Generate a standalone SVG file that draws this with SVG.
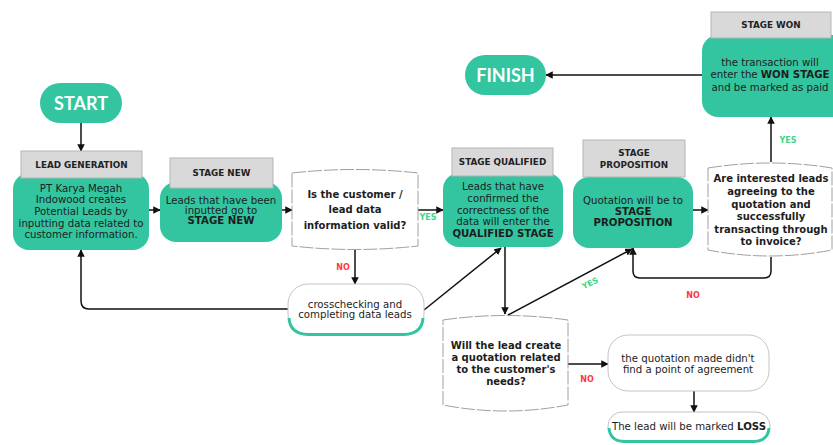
<svg xmlns="http://www.w3.org/2000/svg" width="833" height="445" viewBox="0 0 833 445">
  <defs>
    <marker id="arrow" viewBox="0 0 10 10" refX="9" refY="5" markerWidth="5" markerHeight="5" orient="auto-start-reverse">
      <path d="M0,0 L10,5 L0,10 z" fill="#111"/>
    </marker>
    <style>
      .teal { fill: #33c5a0; }
      .head { fill: #d9d9d9; stroke: #b5b5b5; stroke-width: 1; }
      .headtxt { font-family: "DejaVu Sans", "Noto Sans", sans-serif; font-size: 8.8px; font-weight: bold; fill: #222; text-anchor: middle; }
      .body { font-family: "DejaVu Sans", "Noto Sans", sans-serif; font-size: 10.2px; fill: #1d1d1d; text-anchor: middle; }
      .bold { font-weight: bold; }
      .dec { fill: #fff; stroke: #a0a0a0; stroke-width: 1; stroke-dasharray: 14 2; }
      .dectxt { font-family: "DejaVu Sans", "Noto Sans", sans-serif; font-size: 10px; font-weight: bold; fill: #1d1d1d; text-anchor: middle; }
      .pill { font-family: "Lato", "Open Sans", sans-serif; font-size: 18px; font-weight: bold; fill: #fff; text-anchor: middle; }
      .plain { fill: #fff; stroke: #c4c4c4; stroke-width: 1; }
      .edge { fill: none; stroke: #111; stroke-width: 1.5; marker-end: url(#arrow); }
      .yes { font-family: "DejaVu Sans", sans-serif; font-size: 8px; font-weight: bold; fill: #3fd68a; text-anchor: middle; }
      .no { font-family: "DejaVu Sans", sans-serif; font-size: 8px; font-weight: bold; fill: #ff3838; text-anchor: middle; }
    </style>
  </defs>

  <rect width="833" height="445" fill="#fff"/>

  <!-- connectors -->
  <g id="connectors">
    <path class="edge" d="M81,123 V151"/>
    <path class="edge" d="M149,210 H160"/>
    <path class="edge" d="M282,210 H292"/>
    <path class="edge" d="M418,210 H443"/>
    <path class="edge" d="M355,249 V284"/>
    <path class="edge" d="M288,309 H89 Q81,309 81,301 V250"/>
    <path class="edge" d="M424,310 L501,248"/>
    <path class="edge" d="M505,247 V314"/>
    <path class="edge" d="M508,315 L632,249"/>
    <path class="edge" d="M693,210 H708"/>
    <path class="edge" d="M771,162 V117"/>
    <path class="edge" d="M771,257 V271 Q771,278 764,278 H640 Q633,278 633,271 V248"/>
    <path class="edge" d="M702,75 H546"/>
    <path class="edge" d="M568,364 H608"/>
    <path class="edge" d="M694,391 V412"/>
    <text class="yes" x="428" y="220">YES</text>
    <text class="no" x="343" y="270">NO</text>
    <text class="yes" x="590" y="286" transform="rotate(-25 590 283)">YES</text>
    <text class="no" x="693" y="298">NO</text>
    <text class="yes" x="788" y="143">YES</text>
    <text class="no" x="587" y="382">NO</text>
  </g>

  <!-- terminals -->
  <g id="start">
    <rect x="40" y="83" width="82" height="40" rx="20" class="teal"/>
    <text class="pill" x="81" y="109.5">START</text>
  </g>
  <g id="finish">
    <rect x="465" y="55" width="81" height="40" rx="20" class="teal"/>
    <text class="pill" x="505.5" y="81.5">FINISH</text>
  </g>

  <!-- stages -->
  <g id="lead-generation">
    <rect x="13" y="173" width="136" height="77" rx="16" class="teal"/>
    <rect x="21" y="151" width="121" height="27" class="head"/>
    <text class="headtxt" x="81.5" y="167.5">LEAD GENERATION</text>
    <text class="body" x="81" y="191.5">PT Karya Megah</text>
    <text class="body" x="81" y="203">Indowood creates</text>
    <text class="body" x="81" y="215">Potential Leads by</text>
    <text class="body" x="81" y="226.5">inputting data related to</text>
    <text class="body" x="81" y="238">customer information.</text>
  </g>

  <g id="stage-new">
    <rect x="160" y="182" width="122" height="60" rx="16" class="teal"/>
    <rect x="170" y="158" width="103" height="30" class="head"/>
    <text class="headtxt" x="221.5" y="176">STAGE NEW</text>
    <text class="body" x="221" y="203.5">Leads that have been</text>
    <text class="body" x="221" y="213.5">inputted go to</text>
    <text class="body bold" x="221" y="223.5">STAGE NEW</text>
  </g>

  <g id="data-valid">
    <path class="dec" d="M292,173 Q355,166 418,173 V246 Q355,253 292,246 Z"/>
    <text class="dectxt" x="355" y="197.5">Is the customer /</text>
    <text class="dectxt" x="355" y="213">lead data</text>
    <text class="dectxt" x="355" y="228.5">information valid?</text>
  </g>

  <g id="crosscheck">
    <rect x="288" y="284" width="136" height="50" rx="20" class="plain"/>
    <path d="M289,318 Q290,334 308,334.5 H404 Q422,334 423,318" fill="none" stroke="#33c5a0" stroke-width="3"/>
    <text class="body" x="355" y="307.5">crosschecking and</text>
    <text class="body" x="355" y="318">completing data leads</text>
  </g>

  <g id="stage-qualified">
    <rect x="443" y="173" width="120" height="74" rx="16" class="teal"/>
    <rect x="452" y="148" width="101" height="28" class="head"/>
    <text class="headtxt" x="502.5" y="165">STAGE QUALIFIED</text>
    <text class="body" x="503" y="190">Leads that have</text>
    <text class="body" x="503" y="202">confirmed the</text>
    <text class="body" x="503" y="213.5">correctness of the</text>
    <text class="body" x="503" y="225">data will enter the</text>
    <text class="body bold" x="503" y="236.5">QUALIFIED STAGE</text>
  </g>

  <g id="create-quotation">
    <path class="dec" d="M443,320 Q505,311 568,320 V405 Q505,417 443,405 Z"/>
    <text class="dectxt" x="506" y="348.5">Will the lead create</text>
    <text class="dectxt" x="506" y="360.5">a quotation related</text>
    <text class="dectxt" x="506" y="372.5">to the customer's</text>
    <text class="dectxt" x="506" y="385">needs?</text>
  </g>

  <g id="stage-proposition">
    <rect x="573" y="177" width="120" height="71" rx="16" class="teal"/>
    <rect x="583" y="140" width="102" height="37" class="head"/>
    <text class="headtxt" x="634" y="156">STAGE</text>
    <text class="headtxt" x="634" y="167.5">PROPOSITION</text>
    <text class="body" x="633" y="203.5">Quotation will be to</text>
    <text class="body bold" x="633" y="214.5">STAGE</text>
    <text class="body bold" x="633" y="226">PROPOSITION</text>
  </g>

  <g id="agreement">
    <path class="dec" d="M708,168 Q770,158 832,168 V250 Q770,262 708,250 Z"/>
    <text class="dectxt" x="771" y="181.5">Are interested leads</text>
    <text class="dectxt" x="771" y="195">agreeing to the</text>
    <text class="dectxt" x="771" y="207.5">quotation and</text>
    <text class="dectxt" x="771" y="220">successfully</text>
    <text class="dectxt" x="771" y="232.5">transacting through</text>
    <text class="dectxt" x="771" y="245">to invoice?</text>
  </g>

  <g id="stage-won">
    <rect x="702" y="35" width="150" height="82" rx="16" class="teal"/>
    <rect x="711" y="12" width="120" height="26" class="head"/>
    <text class="headtxt" x="771" y="28">STAGE WON</text>
    <text class="body" x="770" y="65.5">the transaction will</text>
    <text class="body" x="770" y="77.5">enter the <tspan class="bold">WON STAGE</tspan></text>
    <text class="body" x="770" y="91">and be marked as paid</text>
  </g>

  <g id="no-agreement">
    <rect x="608" y="335" width="161" height="56" rx="20" class="plain"/>
    <text class="body" x="688" y="361.5">the quotation made didn't</text>
    <text class="body" x="688" y="372.5">find a point of agreement</text>
  </g>

  <g id="loss">
    <rect x="608" y="412" width="162" height="29" rx="14" class="plain"/>
    <path d="M609,428 Q610,441 624,441.5 H754 Q768,441 769,428" fill="none" stroke="#33c5a0" stroke-width="3"/>
    <text class="body" x="689" y="430">The lead will be marked <tspan class="bold">LOSS</tspan></text>
  </g>
</svg>
